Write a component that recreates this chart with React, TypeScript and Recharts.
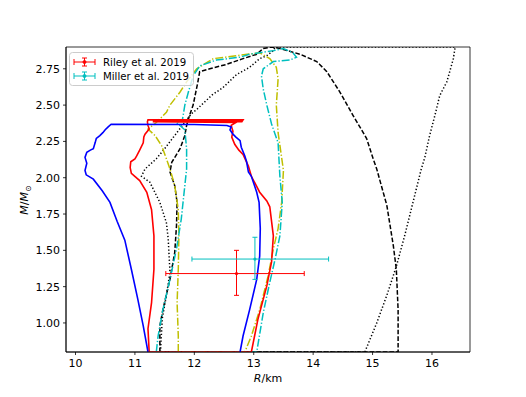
import React from 'react'
import { ComposedChart, Line, Scatter, ErrorBar, XAxis, YAxis, ReferenceArea, Legend, Label } from 'recharts'

type Pt = [number, number]

const X_DOMAIN = [9.84, 16.64]
const Y_DOMAIN = [0.8, 2.9]
const X_TICKS = [10, 11, 12, 13, 14, 15, 16]
const Y_TICKS = [1.0, 1.25, 1.5, 1.75, 2.0, 2.25, 2.5, 2.75]

// mass-radius contours, (R km, M/Msun)
const blueBand: Pt[] = [
    [11.22, 0.8], [11.14, 0.98], [11.05, 1.16], [10.94, 1.37], [10.83, 1.57], [10.7, 1.7], [10.58, 1.83],
    [10.45, 1.91], [10.3, 1.99], [10.18, 2.02], [10.16, 2.05], [10.19, 2.1], [10.16, 2.14], [10.19, 2.175],
    [10.25, 2.19], [10.3, 2.2], [10.33, 2.24], [10.35, 2.27], [10.41, 2.29], [10.46, 2.31], [10.5, 2.33],
    [10.55, 2.35], [10.6, 2.368], [12.0, 2.366], [12.55, 2.36], [12.62, 2.35], [12.6, 2.33], [12.65, 2.3],
    [12.7, 2.28], [12.77, 2.255], [12.79, 2.21], [12.85, 2.15], [12.88, 2.11], [12.91, 2.04], [12.96, 2.01],
    [13.05, 1.9], [13.09, 1.83], [13.11, 1.65], [13.1, 1.46], [13.05, 1.3], [12.93, 1.09], [12.82, 0.91],
    [12.77, 0.8],
]

const redBand: Pt[] = [
    [11.24, 0.8], [11.22, 0.96], [11.28, 1.14], [11.32, 1.37], [11.32, 1.6], [11.28, 1.78], [11.2, 1.9],
    [11.08, 1.98], [10.94, 2.03], [10.92, 2.07], [10.93, 2.11], [11.0, 2.13], [11.03, 2.15], [11.08, 2.19],
    [11.14, 2.24], [11.15, 2.28], [11.17, 2.3], [11.24, 2.335], [11.22, 2.36], [11.21, 2.385], [11.22, 2.398],
    [12.82, 2.398], [12.8, 2.386], [11.3, 2.386], [12.7, 2.38], [12.62, 2.36], [12.65, 2.32], [12.63, 2.28],
    [12.68, 2.23], [12.75, 2.19], [12.82, 2.16], [12.91, 2.08], [12.96, 2.01], [13.1, 1.9], [13.22, 1.84],
    [13.27, 1.8], [13.3, 1.7], [13.33, 1.6], [13.3, 1.42], [13.22, 1.255], [13.07, 1.025], [12.96, 0.8],
    [11.24, 0.8],
]

const dashedBand: Pt[] = [
    [11.42, 0.8], [11.42, 0.98], [11.47, 1.09], [11.59, 1.3], [11.67, 1.485], [11.7, 1.67], [11.71, 1.83],
    [11.67, 1.945], [11.59, 2.04], [11.62, 2.106], [11.76, 2.2], [11.84, 2.29], [11.87, 2.36], [11.92, 2.43],
    [11.98, 2.5], [12.06, 2.66], [12.09, 2.73], [12.26, 2.75], [12.54, 2.78], [12.82, 2.82], [13.05, 2.85],
    [13.16, 2.89], [13.3, 2.9], [13.44, 2.89], [13.78, 2.85], [14.06, 2.8], [14.11, 2.78], [14.23, 2.73],
    [14.45, 2.59], [14.67, 2.43], [14.9, 2.27], [15.01, 2.13], [15.07, 2.06], [15.24, 1.81], [15.35, 1.53],
    [15.4, 1.37], [15.43, 1.09], [15.43, 0.8], [11.42, 0.8],
]

const dottedBand: Pt[] = [
    [11.43, 0.8], [11.46, 1.03], [11.53, 1.19], [11.59, 1.35], [11.56, 1.58], [11.53, 1.69], [11.42, 1.83],
    [11.25, 1.97], [11.11, 2.01], [11.17, 2.06], [11.36, 2.13], [11.5, 2.2], [11.65, 2.28], [11.78, 2.35],
    [11.95, 2.44], [12.04, 2.47], [12.3, 2.57], [12.48, 2.62], [12.71, 2.71], [12.93, 2.76], [13.1, 2.82],
    [13.22, 2.84], [13.33, 2.875], [13.36, 2.9], [16.39, 2.9], [16.36, 2.82], [16.25, 2.66], [16.13, 2.565],
    [16.05, 2.43], [15.96, 2.29], [15.88, 2.14], [15.82, 2.06], [15.68, 1.83], [15.54, 1.6], [15.4, 1.39],
    [15.24, 1.19], [15.07, 1.0], [14.87, 0.8], [11.43, 0.8],
]

const yellowBand: Pt[] = [
    [11.73, 0.8], [11.73, 0.91], [11.71, 1.14], [11.73, 1.37], [11.74, 1.6], [11.73, 1.78], [11.67, 1.945],
    [11.59, 2.06], [11.53, 2.13], [11.45, 2.22], [11.34, 2.29], [11.22, 2.335], [11.36, 2.38], [11.53, 2.45],
    [11.59, 2.5], [11.76, 2.59], [11.87, 2.66], [12.04, 2.75], [12.32, 2.82], [12.71, 2.84], [13.1, 2.86],
    [13.27, 2.82], [13.38, 2.76], [13.41, 2.68], [13.38, 2.5], [13.41, 2.31], [13.5, 2.05], [13.47, 1.83],
    [13.41, 1.65], [13.33, 1.51], [13.24, 1.32], [13.1, 1.09], [12.96, 0.91], [12.85, 0.8], [11.73, 0.8],
]

const cyanBand: Pt[] = [
    [11.36, 0.8], [11.39, 0.91], [11.47, 1.09], [11.59, 1.3], [11.7, 1.51], [11.78, 1.715], [11.84, 1.945],
    [11.87, 2.06], [11.87, 2.2], [11.84, 2.33], [11.7, 2.38], [11.8, 2.4], [11.82, 2.45], [11.84, 2.5],
    [11.9, 2.59], [11.98, 2.7], [12.09, 2.77], [12.37, 2.81], [12.77, 2.83], [12.93, 2.85], [13.33, 2.875],
    [13.5, 2.89], [13.66, 2.86], [13.72, 2.83], [13.61, 2.81], [13.33, 2.8], [13.16, 2.75], [13.13, 2.7],
    [13.16, 2.61], [13.22, 2.5], [13.3, 2.37], [13.41, 2.24], [13.44, 2.01], [13.48, 1.83], [13.44, 1.6],
    [13.36, 1.44], [13.27, 1.28], [13.16, 1.07], [13.05, 0.8], [11.36, 0.8],
]

// measurements: R, M with [minus, plus] errors
const rileyPoint = [{ r: 12.71, m: 1.34, rErr: [1.19, 1.14], mErr: [0.15, 0.16] }]
const millerPoint = [{ r: 13.02, m: 1.44, rErr: [1.06, 1.24], mErr: [0.14, 0.15] }]

const FONT = 'DejaVu Sans'

const curves = [
    { name: 'dotted', pts: dottedBand, color: '#000000', dash: '1.3 2.1', width: 1.5 },
    { name: 'dashed', pts: dashedBand, color: '#000000', dash: '4.6 2', width: 1.5 },
    { name: 'yellow', pts: yellowBand, color: '#bfbf00', dash: '7.9 2 1.3 2', width: 1.5 },
    { name: 'cyan', pts: cyanBand, color: '#00bfbf', dash: '7.9 2 1.3 2', width: 1.5 },
    { name: 'red', pts: redBand, color: '#ff0000', dash: undefined, width: 1.6 },
    { name: 'blue', pts: blueBand, color: '#0000ff', dash: undefined, width: 1.6 },
]

const toRows = (pts: Pt[]) => pts.map(([r, m]) => ({ r, m }))

const ErrIcon = ({ y, color }: { y: number; color: string }) => (
    <g stroke={color} strokeWidth={1}>
        <line x1={5} y1={y} x2={26} y2={y} />
        <line x1={5} y1={y - 3} x2={5} y2={y + 3} />
        <line x1={26} y1={y - 3} x2={26} y2={y + 3} />
        <line x1={15.5} y1={y - 4} x2={15.5} y2={y + 4} />
        <line x1={13} y1={y - 4} x2={18} y2={y - 4} />
        <line x1={13} y1={y + 4} x2={18} y2={y + 4} />
        <circle cx={15.5} cy={y} r={1.5} fill={color} />
    </g>
)

const LegendBox = () => (
    <svg width={125} height={34} style={{ display: 'block' }}>
        <rect x={0.5} y={0.5} width={124} height={33} rx={3} fill="#ffffff" fillOpacity={0.8} stroke="#cccccc" />
        <ErrIcon y={10} color="#ff0000" />
        <ErrIcon y={24} color="#00bfbf" />
        <text x={34} y={13.8} fontFamily={FONT} fontSize={10.2} fill="#000">Riley et al. 2019</text>
        <text x={34} y={27.8} fontFamily={FONT} fontSize={10.2} fill="#000">Miller et al. 2019</text>
    </svg>
)

const Dot = (color: string) => (props: any) => <circle cx={props.cx} cy={props.cy} r={1.6} fill={color} />

const App = () => {
    const tickStyle = { fill: '#000', fontSize: 11, fontFamily: FONT }
    return (
        <div style={{ position: 'absolute', left: 0, top: 0 }}>
            <ComposedChart width={526} height={397} margin={{ top: 47, right: 56, bottom: 0, left: 0 }}>
                <XAxis
                    type="number"
                    dataKey="r"
                    domain={X_DOMAIN}
                    allowDataOverflow
                    ticks={X_TICKS}
                    interval={0}
                    height={45}
                    tickSize={3}
                    tickMargin={4}
                    tick={tickStyle}
                    axisLine={{ stroke: '#000', strokeWidth: 0.8 }}
                    tickLine={{ stroke: '#000', strokeWidth: 0.8 }}
                >
                    <Label
                        content={() => (
                            <text x={268} y={382} textAnchor="middle" fontFamily={FONT} fontSize={11} fill="#000">
                                <tspan fontStyle="italic">R</tspan>/km
                            </text>
                        )}
                    />
                </XAxis>
                <YAxis
                    type="number"
                    dataKey="m"
                    domain={Y_DOMAIN}
                    allowDataOverflow
                    ticks={Y_TICKS}
                    interval={0}
                    width={66}
                    tickSize={3}
                    tickMargin={3}
                    tick={tickStyle}
                    tickFormatter={(v: number) => v.toFixed(2)}
                    axisLine={{ stroke: '#000', strokeWidth: 0.8 }}
                    tickLine={{ stroke: '#000', strokeWidth: 0.8 }}
                >
                    <Label
                        content={() => (
                            <text transform="translate(28,200) rotate(-90)" textAnchor="middle" fontFamily={FONT} fontSize={11} fill="#000">
                                <tspan fontStyle="italic">M</tspan>/<tspan fontStyle="italic">M</tspan>
                                <tspan fontSize={8} dy={3}>⊙</tspan>
                            </text>
                        )}
                    />
                </YAxis>
                {curves.map((c) => (
                    <Line
                        key={c.name}
                        data={toRows(c.pts)}
                        dataKey="m"
                        type="linear"
                        stroke={c.color}
                        strokeWidth={c.width}
                        strokeDasharray={c.dash}
                        dot={false}
                        activeDot={false}
                        legendType="none"
                        isAnimationActive={false}
                    />
                ))}
                <Scatter data={rileyPoint} dataKey="m" shape={Dot('#ff0000')} legendType="none" isAnimationActive={false}>
                    <ErrorBar dataKey="rErr" direction="x" width={2.5} stroke="#ff0000" strokeWidth={1} />
                    <ErrorBar dataKey="mErr" direction="y" width={2.5} stroke="#ff0000" strokeWidth={1} />
                </Scatter>
                <Scatter data={millerPoint} dataKey="m" shape={Dot('#00bfbf')} legendType="none" isAnimationActive={false}>
                    <ErrorBar dataKey="rErr" direction="x" width={2.5} stroke="#00bfbf" strokeWidth={1} />
                    <ErrorBar dataKey="mErr" direction="y" width={2.5} stroke="#00bfbf" strokeWidth={1} />
                </Scatter>
                <ReferenceArea
                    x1={X_DOMAIN[0]}
                    x2={X_DOMAIN[1]}
                    y1={Y_DOMAIN[0]}
                    y2={Y_DOMAIN[1]}
                    fill="none"
                    stroke="#000"
                    strokeWidth={0.8}
                    ifOverflow="visible"
                />
                <Legend
                    layout="vertical"
                    align="center"
                    verticalAlign="middle"
                    wrapperStyle={{ left: 69, top: 52, width: 125 }}
                    content={() => <LegendBox />}
                />
            </ComposedChart>
        </div>
    )
}

export default App
